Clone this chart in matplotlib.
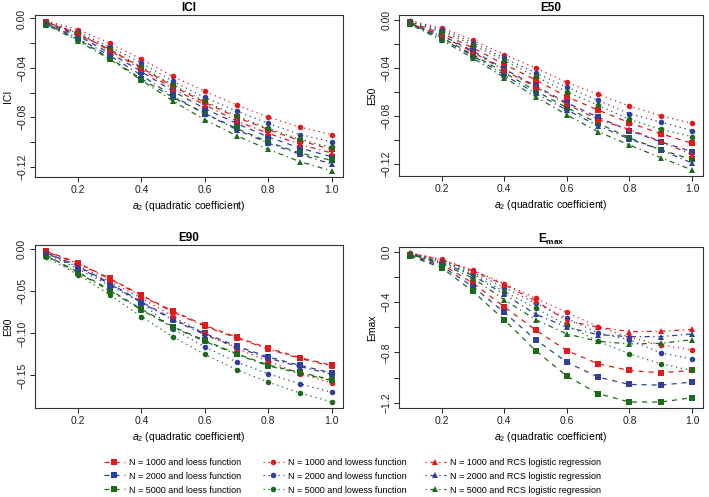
import matplotlib.pyplot as plt
from matplotlib.lines import Line2D

plt.rcParams['font.family'] = ['Liberation Sans', 'DejaVu Sans']
plt.rcParams['mathtext.fontset'] = 'custom'
plt.rcParams['mathtext.rm'] = 'Liberation Sans'
plt.rcParams['mathtext.it'] = 'Liberation Sans:italic'
plt.rcParams['mathtext.bf'] = 'Liberation Sans:bold'

a2 = [0.1, 0.2, 0.3, 0.4, 0.5, 0.6, 0.7, 0.8, 0.9, 1.0]
sizes = [1000, 2000, 5000]
colors = ['#E3191C', '#2F3F9C', '#1C6A1C']

# rows: N = 1000, 2000, 5000
ici_loess = [
    [-0.003, -0.013, -0.025, -0.040, -0.055, -0.068, -0.080, -0.090, -0.099, -0.106],
    [-0.004, -0.014, -0.028, -0.043, -0.059, -0.073, -0.085, -0.096, -0.105, -0.112],
    [-0.0045, -0.017, -0.032, -0.049, -0.064, -0.077, -0.089, -0.100, -0.109, -0.115],
]
ici_lowess = [
    [-0.002, -0.009, -0.020, -0.033, -0.047, -0.059, -0.070, -0.080, -0.088, -0.094],
    [-0.0026, -0.011, -0.023, -0.036, -0.051, -0.064, -0.075, -0.085, -0.094, -0.100],
    [-0.003, -0.012, -0.025, -0.039, -0.054, -0.067, -0.079, -0.089, -0.098, -0.1045],
]
ici_rcs = [
    [-0.003, -0.012, -0.026, -0.041, -0.057, -0.070, -0.083, -0.093, -0.102, -0.109],
    [-0.004, -0.016, -0.030, -0.046, -0.063, -0.077, -0.090, -0.101, -0.110, -0.118],
    [-0.005, -0.018, -0.033, -0.050, -0.067, -0.082, -0.095, -0.106, -0.116, -0.1235],
]

e50_loess = [
    [-0.0023, -0.0113, -0.0235, -0.037, -0.050, -0.064, -0.075, -0.0855, -0.0946, -0.1026],
    [-0.003, -0.013, -0.026, -0.041, -0.055, -0.069, -0.081, -0.092, -0.1014, -0.1095],
    [-0.0033, -0.015, -0.029, -0.044, -0.059, -0.073, -0.086, -0.098, -0.108, -0.116],
]
e50_lowess = [
    [-0.001, -0.007, -0.017, -0.029, -0.040, -0.052, -0.062, -0.0717, -0.0797, -0.086],
    [-0.0015, -0.0085, -0.019, -0.032, -0.044, -0.056, -0.067, -0.078, -0.085, -0.092],
    [-0.002, -0.010, -0.021, -0.034, -0.047, -0.060, -0.071, -0.0828, -0.091, -0.097],
]
e50_rcs = [
    [-0.003, -0.0137, -0.027, -0.042, -0.056, -0.070, -0.083, -0.091, -0.101, -0.112],
    [-0.0035, -0.016, -0.030, -0.046, -0.061, -0.075, -0.088, -0.099, -0.108, -0.119],
    [-0.004, -0.017, -0.032, -0.048, -0.064, -0.079, -0.093, -0.104, -0.1145, -0.1247],
]

e90_loess = [
    [-0.002, -0.016, -0.0344, -0.0544, -0.0736, -0.0904, -0.1044, -0.1176, -0.1288, -0.138],
    [-0.004, -0.020, -0.040, -0.0624, -0.083, -0.100, -0.115, -0.128, -0.138, -0.147],
    [-0.007, -0.027, -0.048, -0.071, -0.092, -0.1084, -0.124, -0.1376, -0.1464, -0.155],
]
e90_lowess = [
    [-0.003, -0.019, -0.038, -0.058, -0.080, -0.100, -0.118, -0.133, -0.148, -0.159],
    [-0.0048, -0.023, -0.043, -0.063, -0.095, -0.116, -0.134, -0.148, -0.160, -0.170],
    [-0.009, -0.030, -0.054, -0.080, -0.104, -0.125, -0.143, -0.158, -0.171, -0.1816],
]
e90_rcs = [
    [-0.0025, -0.017, -0.035, -0.0554, -0.0746, -0.0914, -0.1054, -0.1186, -0.1298, -0.139],
    [-0.0045, -0.021, -0.041, -0.0634, -0.084, -0.1015, -0.1165, -0.1295, -0.1395, -0.1485],
    [-0.0075, -0.028, -0.049, -0.072, -0.093, -0.1094, -0.125, -0.1386, -0.1474, -0.156],
]

emax_loess = [
    [-0.025, -0.100, -0.250, -0.438, -0.622, -0.786, -0.891, -0.944, -0.962, -0.944],
    [-0.030, -0.115, -0.277, -0.483, -0.699, -0.878, -0.997, -1.055, -1.060, -1.036],
    [-0.037, -0.127, -0.316, -0.541, -0.786, -0.989, -1.128, -1.195, -1.195, -1.160],
]
emax_lowess = [
    [-0.010, -0.060, -0.148, -0.253, -0.369, -0.483, -0.596, -0.680, -0.741, -0.781],
    [-0.015, -0.070, -0.165, -0.285, -0.409, -0.530, -0.646, -0.700, -0.804, -0.852],
    [-0.020, -0.080, -0.180, -0.317, -0.448, -0.585, -0.712, -0.812, -0.891, -0.944],
]
emax_rcs = [
    [-0.013, -0.065, -0.153, -0.262, -0.390, -0.549, -0.600, -0.635, -0.633, -0.617],
    [-0.018, -0.085, -0.190, -0.338, -0.496, -0.600, -0.659, -0.675, -0.675, -0.654],
    [-0.022, -0.095, -0.210, -0.382, -0.540, -0.654, -0.712, -0.733, -0.728, -0.699],
]

# y ticks; labels only on some of them (R drops the ones that would overlap)
ici_ticks = [0.00, -0.02, -0.04, -0.06, -0.08, -0.10, -0.12]
ici_labels = ['0.00', '', '\u22120.04', '', '\u22120.08', '', '\u22120.12']
e50_ticks = [0.00, -0.02, -0.04, -0.06, -0.08, -0.10, -0.12]
e50_labels = ['0.00', '', '\u22120.04', '', '\u22120.08', '', '\u22120.12']
e90_ticks = [0.00, -0.05, -0.10, -0.15]
e90_labels = ['0.00', '\u22120.05', '\u22120.10', '\u22120.15']
emax_ticks = [0.0, -0.2, -0.4, -0.6, -0.8, -1.0, -1.2]
emax_labels = ['0.0', '', '\u22120.4', '', '\u22120.8', '', '\u22121.2']
x_ticks = [0.2, 0.4, 0.6, 0.8, 1.0]
x_labels = ['0.2', '0.4', '0.6', '0.8', '1.0']

methods = [
    ('loess function', 's', (0, (4, 4))),
    ('lowess function', 'o', (0, (1, 3))),
    ('RCS logistic regression', '^', (0, (1, 3, 4, 3))),
]

fig = plt.figure(figsize=(7.09, 4.97), dpi=100)

panels = [
    ([0.049, 0.644, 0.435, 0.326], 'ICI', 'ICI', ici_loess, ici_lowess, ici_rcs, ici_ticks, ici_labels),
    ([0.563, 0.646, 0.429, 0.324], 'E50', 'E50', e50_loess, e50_lowess, e50_rcs, e50_ticks, e50_labels),
    ([0.049, 0.179, 0.435, 0.328], 'E90', 'E90', e90_loess, e90_lowess, e90_rcs, e90_ticks, e90_labels),
    ([0.563, 0.179, 0.429, 0.324], r'$\mathbf{E_{max}}$', 'Emax', emax_loess, emax_lowess, emax_rcs, emax_ticks, emax_labels),
]

for rect, title, ylab, loess, lowess, rcs, yt, ylabels in panels:
    ax = fig.add_axes(rect)
    allvals = []
    for m, data in enumerate([loess, lowess, rcs]):
        name, mk, ls = methods[m]
        for k in range(3):
            ax.plot(a2, data[k], color=colors[k], linestyle=ls, linewidth=0.9,
                    marker=mk, markersize=4, markeredgewidth=0)
            allvals += data[k]
    lo, hi = min(allvals), max(allvals)
    pad = 0.04 * (hi - lo)
    ax.set_ylim(lo - pad, hi + pad)
    ax.set_xlim(0.064, 1.036)
    ax.set_xticks(x_ticks)
    ax.set_xticklabels(x_labels)
    ax.set_yticks(yt)
    ax.set_yticklabels(ylabels, rotation=90, va='center')
    ax.tick_params(labelsize=7.5, length=3.5, width=0.7, colors='#222222', pad=2)
    for s in ax.spines.values():
        s.set_linewidth(0.8)
        s.set_color('#333333')
    ax.set_title(title, fontsize=8.5, fontweight='bold', pad=3)
    ax.set_ylabel(ylab, fontsize=7.5, labelpad=3)
    ax.set_xlabel(r'$a_2$ (quadratic coefficient)', fontsize=7.5, labelpad=3)

# one legend per method column, placed where the reference has them
col_x = [104, 263, 425]
for m, (name, mk, ls) in enumerate(methods):
    handles = []
    labels = []
    for k in range(3):
        handles.append(Line2D([], [], color=colors[k], linestyle=ls, linewidth=0.9,
                              marker=mk, markersize=4, markeredgewidth=0))
        labels.append('N = %d and %s' % (sizes[k], name))
    fig.legend(handles, labels, loc='center left',
               bbox_to_anchor=(col_x[m] / 709, 0.042), frameon=False,
               fontsize=6.5, handlelength=2.3, handletextpad=0.5,
               labelspacing=0.55, borderpad=0, borderaxespad=0)

fig.savefig('out.png', dpi=100)
